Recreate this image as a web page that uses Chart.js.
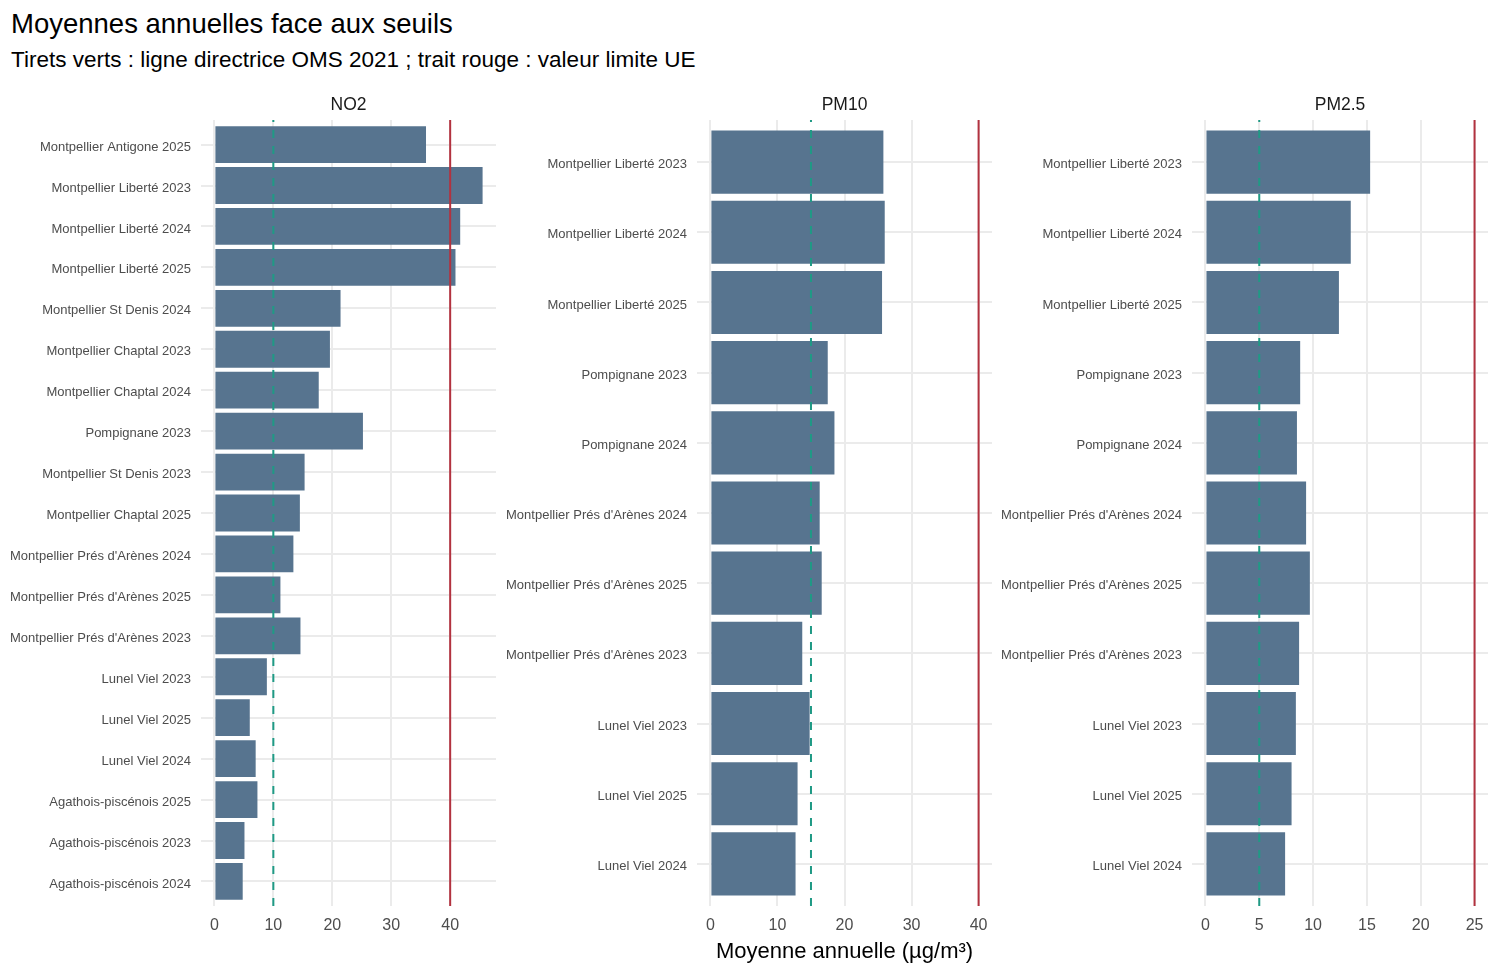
<!DOCTYPE html>
<html>
<head>
<meta charset="utf-8">
<script src="https://cdn.jsdelivr.net/npm/chart.js@4.4.1/dist/chart.umd.min.js"></script>
<style>
html,body{margin:0;padding:0;background:#fff;width:1500px;height:975px;overflow:hidden;font-family:"Liberation Sans",Arial,sans-serif;}
#title{position:absolute;left:11px;top:10px;font-size:27.5px;line-height:1;color:#000;white-space:nowrap;}
#subtitle{position:absolute;left:11px;top:49px;font-size:22.5px;line-height:1;color:#000;white-space:nowrap;}
.panel{position:absolute;top:86px;height:889px;}
</style>
</head>
<body>
<div id="title">Moyennes annuelles face aux seuils</div>
<div id="subtitle">Tirets verts : ligne directrice OMS 2021 ; trait rouge : valeur limite UE</div>
<div class="panel" style="left:0px;width:496px"><canvas id="c0"></canvas></div>
<div class="panel" style="left:497px;width:495px"><canvas id="c1"></canvas></div>
<div class="panel" style="left:993px;width:495px"><canvas id="c2"></canvas></div>
<script>
// ---- Data (top to bottom within each panel) ----
const pollutants = ["NO2", "PM10", "PM2.5"];
const whoGuideline = [10, 15, 5];   // OMS 2021
const euLimit = [40, 40, 25];       // valeur limite UE

const no2Stations = [
  "Montpellier Antigone 2025", "Montpellier Liberté 2023", "Montpellier Liberté 2024",
  "Montpellier Liberté 2025", "Montpellier St Denis 2024", "Montpellier Chaptal 2023",
  "Montpellier Chaptal 2024", "Pompignane 2023", "Montpellier St Denis 2023",
  "Montpellier Chaptal 2025", "Montpellier Prés d'Arènes 2024", "Montpellier Prés d'Arènes 2025",
  "Montpellier Prés d'Arènes 2023", "Lunel Viel 2023", "Lunel Viel 2025", "Lunel Viel 2024",
  "Agathois-piscénois 2025", "Agathois-piscénois 2023", "Agathois-piscénois 2024"
];
const no2Values = [35.9, 45.5, 41.7, 40.9, 21.4, 19.6, 17.7, 25.2, 15.3, 14.5, 13.4, 11.2, 14.6, 8.9, 6.0, 7.0, 7.3, 5.1, 4.8];

const pm10Stations = [
  "Montpellier Liberté 2023", "Montpellier Liberté 2024", "Montpellier Liberté 2025",
  "Pompignane 2023", "Pompignane 2024", "Montpellier Prés d'Arènes 2024",
  "Montpellier Prés d'Arènes 2025", "Montpellier Prés d'Arènes 2023",
  "Lunel Viel 2023", "Lunel Viel 2025", "Lunel Viel 2024"
];
const pm10Values = [25.8, 26.0, 25.6, 17.5, 18.5, 16.3, 16.6, 13.7, 14.8, 13.0, 12.7];

const pm25Stations = [
  "Montpellier Liberté 2023", "Montpellier Liberté 2024", "Montpellier Liberté 2025",
  "Pompignane 2023", "Pompignane 2024", "Montpellier Prés d'Arènes 2024",
  "Montpellier Prés d'Arènes 2025", "Montpellier Prés d'Arènes 2023",
  "Lunel Viel 2023", "Lunel Viel 2025", "Lunel Viel 2024"
];
const pm25Values = [15.3, 13.5, 12.4, 8.8, 8.5, 9.35, 9.7, 8.7, 8.4, 8.0, 7.4];

const no2Ticks = [0, 10, 20, 30, 40];
const pm10Ticks = [0, 10, 20, 30, 40];
const pm25Ticks = [0, 5, 10, 15, 20, 25];

const xAxisTitle = "Moyenne annuelle (µg/m³)";

// ---- Rendering ----
const FONT = '"Liberation Sans", Arial, sans-serif';
Chart.defaults.font.family = FONT;
Chart.defaults.animation = false;

const BAR = "#57748F";
const GRID = "#EBEBEB";
const TEAL = "#1F9A85";
const RED = "#B2323F";

const panels = [
  {stations: no2Stations, values: no2Values, ticks: no2Ticks, yw: 201},
  {stations: pm10Stations, values: pm10Values, ticks: pm10Ticks, yw: 200},
  {stations: pm25Stations, values: pm25Values, ticks: pm25Ticks, yw: 199}
];

const stripPlugin = {
  id: "strip",
  afterDraw(chart, args, opts) {
    const {ctx, chartArea} = chart;
    ctx.save();
    ctx.font = '17.5px ' + FONT;
    ctx.fillStyle = "#1A1A1A";
    ctx.textAlign = "center";
    ctx.textBaseline = "alphabetic";
    ctx.fillText(opts.text, (chartArea.left + chartArea.right) / 2, chartArea.top - 10.5);
    ctx.restore();
  }
};

const refLinesPlugin = {
  id: "refLines",
  afterDatasetsDraw(chart, args, opts) {
    const {ctx, chartArea} = chart;
    const xs = chart.scales.x;
    ctx.save();
    // EU limit: solid red
    let x = xs.getPixelForValue(opts.eu);
    ctx.strokeStyle = RED;
    ctx.lineWidth = 2;
    ctx.setLineDash([]);
    ctx.beginPath();
    ctx.moveTo(x, chartArea.bottom);
    ctx.lineTo(x, chartArea.top);
    ctx.stroke();
    // WHO guideline: dashed teal
    x = xs.getPixelForValue(opts.who);
    ctx.strokeStyle = TEAL;
    ctx.setLineDash([8, 8]);
    ctx.beginPath();
    ctx.moveTo(x, chartArea.bottom);
    ctx.lineTo(x, chartArea.top);
    ctx.stroke();
    ctx.restore();
  }
};

panels.forEach((p, i) => {
  const n = p.stations.length;
  const dataMax = Math.max(...p.values, euLimit[i], whoGuideline[i]);
  const xMin = -0.05 * dataMax;
  const xMax = dataMax * 1.05;
  new Chart(document.getElementById("c" + i), {
    type: "bar",
    data: {
      datasets: [{
        data: p.values.map((v, k) => ({x: v, y: k + 1})),
        backgroundColor: BAR,
        borderWidth: 0,
        barPercentage: 0.9,
        categoryPercentage: 1.0
      }]
    },
    plugins: [stripPlugin, refLinesPlugin],
    options: {
      indexAxis: "y",
      responsive: true,
      maintainAspectRatio: false,
      animation: false,
      layout: {padding: {top: 34, left: 0, right: 0, bottom: 0}},
      plugins: {
        legend: {display: false},
        tooltip: {enabled: false},
        strip: {text: pollutants[i]},
        refLines: {who: whoGuideline[i], eu: euLimit[i]}
      },
      scales: {
        y: {
          type: "linear",
          reverse: true,
          offset: false,
          min: 0.4,
          max: n + 0.6,
          afterBuildTicks: s => { s.ticks = p.stations.map((_, k) => ({value: k + 1})); },
          afterFit: s => { s.width = p.yw; s.paddingTop = 0; s.paddingBottom = 0; },
          ticks: {
            autoSkip: false,
            callback: (v, idx) => p.stations[idx],
            font: {size: 13},
            color: "#4D4D4D",
            padding: 10,
            labelOffset: 2.5
          },
          grid: {color: GRID, lineWidth: 2, drawTicks: false, offset: false},
          border: {display: false}
        },
        x: {
          type: "linear",
          min: xMin,
          max: xMax,
          afterBuildTicks: s => { s.ticks = p.ticks.map(v => ({value: v})); },
          afterFit: s => { s.height = 69; s.paddingLeft = 0; s.paddingRight = 0; },
          ticks: {
            autoSkip: false,
            maxRotation: 0,
            callback: v => String(v),
            font: {size: 16},
            color: "#4D4D4D",
            padding: 10
          },
          grid: {color: GRID, lineWidth: 2, drawTicks: false},
          border: {display: false},
          title: {
            display: i === 1,
            text: xAxisTitle,
            font: {size: 22},
            color: "#000",
            padding: {top: 0, bottom: 10}
          }
        }
      }
    }
  });
});
</script>
</body>
</html>
